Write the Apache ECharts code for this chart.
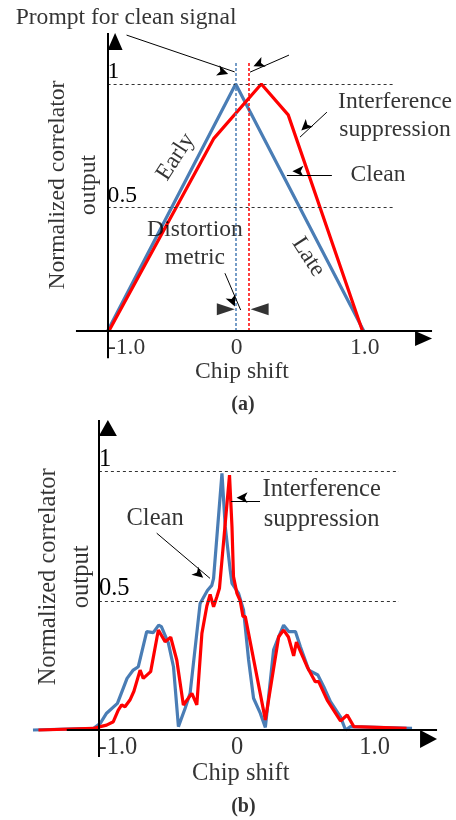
<!DOCTYPE html>
<html><head><meta charset="utf-8">
<script src="https://cdn.jsdelivr.net/npm/echarts@6/dist/echarts.min.js"></script>
<style>html,body{margin:0;padding:0;background:#fff}#c{width:456px;height:820px}</style>
</head><body><div id="c"></div>
<script>
// ---- tick labels ----
const xTickValues = [-1, 0, 1];
const xTickLabels = ['-1.0', '0', '1.0'];
const yTickValues = [0.5, 1];
const yTickLabels = ['0.5', '1'];

// ---- (a) early-prompt-late triangle ----
const aCleanX = [-1, 0, 1];
const aCleanY = [0, 1, 0];
const aSuppX = [-0.99, -0.17, 0.2, 0.41, 0.99];
const aSuppY = [0, 0.78, 1.0, 0.875, 0];
const aPromptClean = 0;
const aPromptSupp = 0.1;

// ---- (b) correlator output with side peaks ----
const bCleanX = [-1.48, -1.04, -0.99, -0.944, -0.865, -0.795, -0.75, -0.713, -0.652, -0.604, -0.565, -0.545, -0.494, -0.457, -0.421, -0.372, -0.336, -0.263, -0.21, -0.178, -0.165, -0.104, -0.08, -0.044, -0.031, 0.017, 0.053, 0.09, 0.126, 0.175, 0.212, 0.272, 0.309, 0.345, 0.382, 0.431, 0.467, 0.528, 0.594, 0.637, 0.686, 0.759, 0.796, 0.832, 1.28];
const bCleanY = [0, 0.006, 0.026, 0.065, 0.103, 0.2, 0.232, 0.245, 0.381, 0.377, 0.406, 0.4, 0.336, 0.245, 0.013, 0.084, 0.142, 0.49, 0.54, 0.56, 0.587, 0.994, 0.787, 0.619, 0.568, 0.529, 0.465, 0.271, 0.123, 0.065, 0.01, 0.31, 0.361, 0.406, 0.381, 0.381, 0.322, 0.232, 0.213, 0.168, 0.11, 0.051, 0.0, 0.013, 0.006];
const bSuppX = [-1.44, -1.04, -0.99, -0.944, -0.895, -0.859, -0.834, -0.81, -0.774, -0.745, -0.70, -0.677, -0.623, -0.567, -0.518, -0.477, -0.433, -0.385, -0.323, -0.287, -0.25, -0.214, -0.19, -0.165, -0.141, -0.122, -0.049, -0.031, -0.02, 0.005, 0.029, 0.049, 0.066, 0.212, 0.309, 0.345, 0.38, 0.418, 0.438, 0.516, 0.575, 0.60, 0.662, 0.759, 0.808, 0.856, 1.24];
const bSuppY = [0, 0.006, 0.013, 0.019, 0.032, 0.077, 0.097, 0.09, 0.116, 0.15, 0.232, 0.2, 0.226, 0.387, 0.342, 0.359, 0.271, 0.097, 0.142, 0.097, 0.374, 0.48, 0.525, 0.477, 0.516, 0.549, 0.987, 0.787, 0.594, 0.529, 0.5, 0.44, 0.439, 0.039, 0.361, 0.387, 0.36, 0.287, 0.34, 0.245, 0.187, 0.187, 0.116, 0.035, 0.058, 0.013, 0.006];

const zip = (xs, ys) => xs.map((x, i) => [x, ys[i]]);
const FONT = "'Liberation Serif','Times New Roman',serif";
const BLUE = '#4a7db5', RED = '#ff0000';
const fa = 23.6, fb = 24.5;

function xAxisCfg(g, min, max) {
  return { gridIndex: g, type: 'value', min: min, max: max, show: false,
    axisLine: { show: false }, axisTick: { show: false }, axisLabel: { show: false }, splitLine: { show: false } };
}
function yAxisCfg(g, min, max) {
  return { gridIndex: g, type: 'value', min: min, max: max, show: false,
    axisLine: { show: false }, axisTick: { show: false }, axisLabel: { show: false }, splitLine: { show: false } };
}
function lineSeries(g, data, color) {
  return { type: 'line', xAxisIndex: g, yAxisIndex: g, data: data, showSymbol: false, symbol: 'none',
    lineStyle: { color: color, width: 3.2 }, z: 3, silent: true };
}
function marks(g, data, lineStyle, symbol, symbolSize, z) {
  return { type: 'line', xAxisIndex: g, yAxisIndex: g, data: [], silent: true, z: z || 2,
    markLine: { silent: true, animation: false, symbol: symbol, symbolSize: symbolSize,
      symbolOffset: [0, '50%'], lineStyle: lineStyle, label: { show: false }, data: data } };
}
function seg(x1, y1, x2, y2) { return [{ coord: [x1, y1] }, { coord: [x2, y2] }]; }
function refLines(g, xEnd, fs, dist) {
  return yTickValues.map((v, i) => [
    { coord: [-1, v], label: { show: true, formatter: yTickLabels[i], position: 'insideStartTop', distance: dist,
      color: '#000', fontFamily: FONT, fontSize: fs } },
    { coord: [xEnd, v] }]);
}
function texts(g, items, fs) {
  return { type: 'scatter', xAxisIndex: g, yAxisIndex: g, symbolSize: 1, silent: true, z: 10,
    itemStyle: { color: 'rgba(0,0,0,0)' },
    label: { show: true, position: 'inside', formatter: '{b}', color: '#000', fontFamily: FONT, fontSize: fs },
    data: items };
}
function xTicks(g, fs, dy) {
  return texts(g, xTickValues.map((v, i) => ({
    name: xTickLabels[i], value: [v, 0], label: { offset: [i === 0 ? 19 : 1, dy] }
  })), fs);
}
const thin = { color: '#000', width: 1, type: 'solid' };
const axisStyle = { color: '#000', width: 2, type: 'solid' };
const dashStyle = { color: '#333', width: 1, type: [3, 3] };

const option = {
  animation: false,
  backgroundColor: '#fff',
  textStyle: { fontFamily: FONT },
  grid: [
    { left: 0, top: 0, width: 456, height: 420, outerBoundsMode: 'none', containLabel: false },
    { left: 0, top: 412.3, width: 456, height: 408.1, outerBoundsMode: 'none', containLabel: false }
  ],
  xAxis: [xAxisCfg(0, -1.84, 1.72), xAxisCfg(1, -1.72, 1.6)],
  yAxis: [yAxisCfg(0, -0.36, 1.34), yAxisCfg(1, -0.35, 1.23)],
  series: [
    // ---------- (a) ----------
    marks(0, refLines(0, 1.227, fa, 0), dashStyle, ['none', 'none'], 0, 1),
    marks(0, [seg(aPromptClean, 0, aPromptClean, 1.085)], { color: BLUE, width: 1.5, type: [3, 2] }, ['none', 'none'], 0, 1),
    marks(0, [seg(aPromptSupp, 0, aPromptSupp, 1.085)], { color: RED, width: 1.5, type: [3, 2] }, ['none', 'none'], 0, 1),
    lineSeries(0, zip(aCleanX, aCleanY), BLUE),
    lineSeries(0, zip(aSuppX, aSuppY), RED),
    marks(0, [seg(-1, -0.11, -1, 1.206)], axisStyle, ['none', 'triangle'], [15, 17], 5),
    marks(0, [seg(-1.247, 0, 1.533, 0)], axisStyle, ['none', 'triangle'], [15, 17], 5),
    marks(0, [
      seg(-0.852, 1.198, -0.008, 1.049),
      seg(0.416, 1.117, 0.112, 1.048),
      seg(0.712, 0.886, 0.502, 0.785),
      seg(0.751, 0.631, 0.40, 0.631),
      seg(-0.084, 0.234, 0.039, 0.085)
    ], thin, ['none', 'arrow'], [8, 11], 6),
    { type: 'scatter', xAxisIndex: 0, yAxisIndex: 0, silent: true, z: 6, symbol: 'triangle', symbolSize: [12, 18],
      itemStyle: { color: '#000' },
      data: [{ value: [-0.077, 0.088], symbolRotate: -90 }, { value: [0.187, 0.088], symbolRotate: 90 }] },
    xTicks(0, fa, 17),
    texts(0, [
      { name: 'Prompt for clean signal', value: [-0.856, 1.267] },
      { name: 'Interference\nsuppression', value: [1.244, 0.870], label: { lineHeight: 28 } },
      { name: 'Clean', value: [1.111, 0.631] },
      { name: 'Early', value: [-0.468, 0.705], label: { rotate: 57 } },
      { name: 'Late', value: [0.567, 0.30], label: { rotate: -57 } },
      { name: 'Distortion\nmetric', value: [-0.318, 0.352], label: { lineHeight: 28 } },
      { name: 'Chip shift', value: [0.049, -0.166] },
      { name: 'Normalized correlator\noutput', value: [-1.266, 0.591], label: { rotate: 90, lineHeight: 31 } },
      { name: '(a)', value: [0.057, -0.30], label: { fontWeight: 'bold', fontSize: 20 } }
    ], fa),
    // ---------- (b) ----------
    marks(1, refLines(1, 1.185, fb, 0), dashStyle, ['none', 'none'], 0, 1),
    lineSeries(1, zip(bCleanX, bCleanY), BLUE),
    lineSeries(1, zip(bSuppX, bSuppY), RED),
    marks(1, [seg(-1, -0.105, -1, 1.2)], axisStyle, ['none', 'triangle'], [18, 16], 5),
    marks(1, [seg(-1.234, 0, 1.462, 0)], axisStyle, ['none', 'triangle'], [18, 17], 5),
    marks(1, [
      seg(-0.579, 0.762, -0.191, 0.587),
      seg(0.173, 0.884, -0.038, 0.884)
    ], thin, ['none', 'arrow'], [8, 11], 6),
    xTicks(1, fb, 18),
    texts(1, [
      { name: 'Clean', value: [-0.591, 0.817] },
      { name: 'Interference\nsuppression', value: [0.622, 0.871], label: { lineHeight: 30 } },
      { name: 'Chip shift', value: [0.033, -0.168] },
      { name: 'Normalized correlator\noutput', value: [-1.246, 0.593], label: { rotate: 90, lineHeight: 33 } },
      { name: '(b)', value: [0.052, -0.297], label: { fontWeight: 'bold', fontSize: 20 } }
    ], fb)
  ]
};
const chart = echarts.init(document.getElementById('c'), null, { renderer: 'canvas' });
chart.setOption(option);
</script>
</body></html>
